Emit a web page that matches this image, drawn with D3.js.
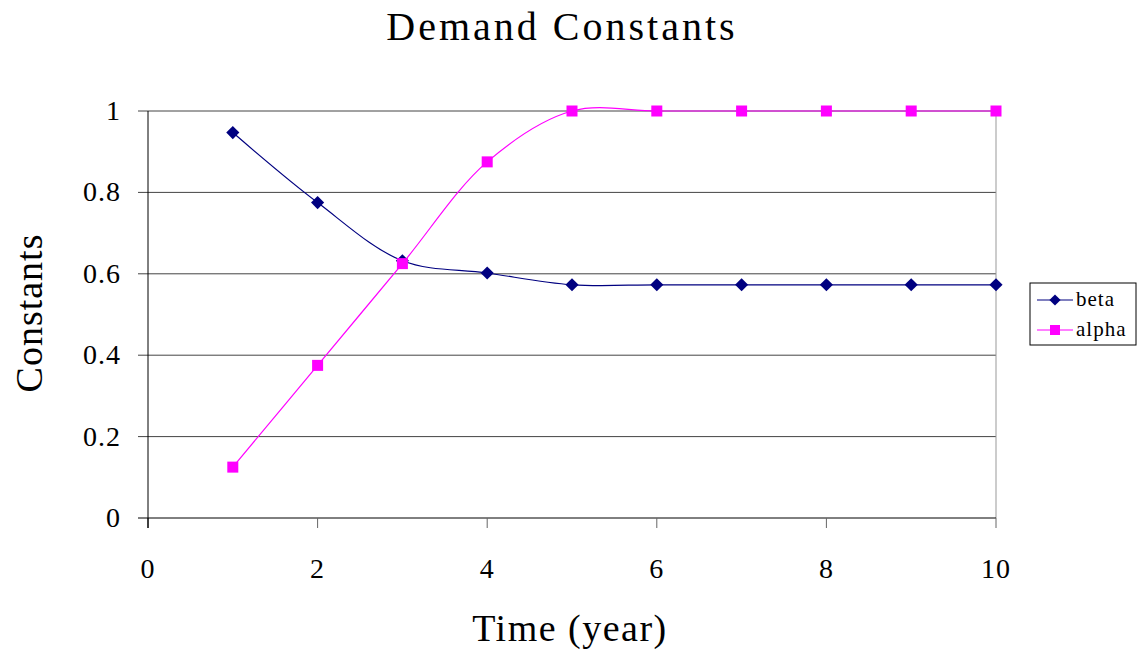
<!DOCTYPE html>
<html>
<head>
<meta charset="utf-8">
<script src="https://cdn.jsdelivr.net/npm/d3@7"></script>
<style>
  body { margin: 0; background: #fff; }
  text { font-family: "Liberation Serif", "DejaVu Serif", serif; fill: #000; }
</style>
</head>
<body>
<svg width="1139" height="652"></svg>
<script>
var years = [1, 2, 3, 4, 5, 6, 7, 8, 9, 10];
var beta = [0.947, 0.775, 0.632, 0.602, 0.573, 0.573, 0.573, 0.573, 0.573, 0.573];
var alpha = [0.125, 0.375, 0.625, 0.875, 1, 1, 1, 1, 1, 1];
var xTicks = [0, 2, 4, 6, 8, 10];
var yTicks = [0, 0.2, 0.4, 0.6, 0.8, 1];

var svg = d3.select("svg");

var plotLeft = 148, plotRight = 996, plotTop = 111, plotBottom = 518;

var x = d3.scaleLinear().domain([0, 10]).range([plotLeft, plotRight]);
var y = d3.scaleLinear().domain([0, 1]).range([plotBottom, plotTop]);

// gridlines
svg.append("g")
    .selectAll("line")
    .data(yTicks.slice(1))
    .enter().append("line")
    .attr("x1", plotLeft - 10)
    .attr("x2", plotRight)
    .attr("y1", d => y(d))
    .attr("y2", d => y(d))
    .attr("stroke", "#444")
    .attr("stroke-width", 1);

// right border
svg.append("line")
    .attr("x1", plotRight).attr("x2", plotRight)
    .attr("y1", plotTop).attr("y2", plotBottom)
    .attr("stroke", "#999");

// x axis
svg.append("line")
    .attr("x1", plotLeft - 10).attr("x2", plotRight)
    .attr("y1", plotBottom).attr("y2", plotBottom)
    .attr("stroke", "#000");
svg.append("g")
    .selectAll("line")
    .data(xTicks)
    .enter().append("line")
    .attr("x1", d => x(d)).attr("x2", d => x(d))
    .attr("y1", plotBottom).attr("y2", plotBottom + 10)
    .attr("stroke", d => d === 0 ? "#000" : "#666");
svg.append("g")
    .selectAll("text")
    .data(xTicks)
    .enter().append("text")
    .attr("x", d => x(d))
    .attr("y", 578)
    .attr("text-anchor", "middle")
    .attr("font-size", 28)
    .attr("letter-spacing", 1)
    .text(d => d);

// y axis
svg.append("line")
    .attr("x1", plotLeft).attr("x2", plotLeft)
    .attr("y1", plotTop).attr("y2", plotBottom + 10)
    .attr("stroke", "#000");
svg.append("g")
    .selectAll("text")
    .data(yTicks)
    .enter().append("text")
    .attr("x", 121)
    .attr("y", d => y(d) + 9)
    .attr("text-anchor", "end")
    .attr("font-size", 28)
    .attr("letter-spacing", 1)
    .text(d => d);

// lines
var line = d3.line()
    .x(d => x(d[0]))
    .y(d => y(d[1]))
    .curve(d3.curveCatmullRom.alpha(0.5));

var betaPts = years.map((d, i) => [d, beta[i]]);
var alphaPts = years.map((d, i) => [d, alpha[i]]);

svg.append("path")
    .datum(alphaPts)
    .attr("d", line)
    .attr("fill", "none")
    .attr("stroke", "#ff00ff")
    .attr("stroke-width", 1.2);

svg.append("path")
    .datum(betaPts)
    .attr("d", line)
    .attr("fill", "none")
    .attr("stroke", "#000080")
    .attr("stroke-width", 1.2);

svg.append("g")
    .selectAll("path")
    .data(betaPts)
    .enter().append("path")
    .attr("d", d3.symbol().type(d3.symbolDiamond2).size(110))
    .attr("transform", d => "translate(" + x(d[0]) + "," + y(d[1]) + ")")
    .attr("fill", "#000080");

svg.append("g")
    .selectAll("rect")
    .data(alphaPts)
    .enter().append("rect")
    .attr("x", d => x(d[0]) - 5.5)
    .attr("y", d => y(d[1]) - 5.5)
    .attr("width", 11)
    .attr("height", 11)
    .attr("fill", "#ff00ff");

// titles
svg.append("text")
    .attr("x", 562)
    .attr("y", 40)
    .attr("text-anchor", "middle")
    .attr("font-size", 40)
    .attr("letter-spacing", 3)
    .text("Demand Constants");

svg.append("text")
    .attr("x", 570)
    .attr("y", 641)
    .attr("text-anchor", "middle")
    .attr("font-size", 38)
    .attr("letter-spacing", 1.5)
    .text("Time (year)");

svg.append("text")
    .attr("transform", "translate(42,313) rotate(-90)")
    .attr("text-anchor", "middle")
    .attr("font-size", 38)
    .attr("letter-spacing", 1)
    .text("Constants");

// legend
var legend = svg.append("g").attr("transform", "translate(1030,283)");
legend.append("rect")
    .attr("width", 106).attr("height", 62)
    .attr("fill", "#fff").attr("stroke", "#000");

var legendItems = [
    { name: "beta", color: "#000080", type: "diamond" },
    { name: "alpha", color: "#ff00ff", type: "square" }
];

legendItems.forEach(function (item, i) {
    var cy = 17 + i * 30;
    legend.append("line")
        .attr("x1", 7).attr("x2", 43)
        .attr("y1", cy).attr("y2", cy)
        .attr("stroke", item.color).attr("stroke-width", 1.2);
    if (item.type === "diamond") {
        legend.append("path")
            .attr("d", d3.symbol().type(d3.symbolDiamond2).size(80))
            .attr("transform", "translate(25," + cy + ")")
            .attr("fill", item.color);
    } else {
        legend.append("rect")
            .attr("x", 20).attr("y", cy - 5)
            .attr("width", 10).attr("height", 10)
            .attr("fill", item.color);
    }
    legend.append("text")
        .attr("x", 46)
        .attr("y", cy + 6)
        .attr("font-size", 21)
        .attr("letter-spacing", 1)
        .text(item.name);
});
</script>
</body>
</html>
